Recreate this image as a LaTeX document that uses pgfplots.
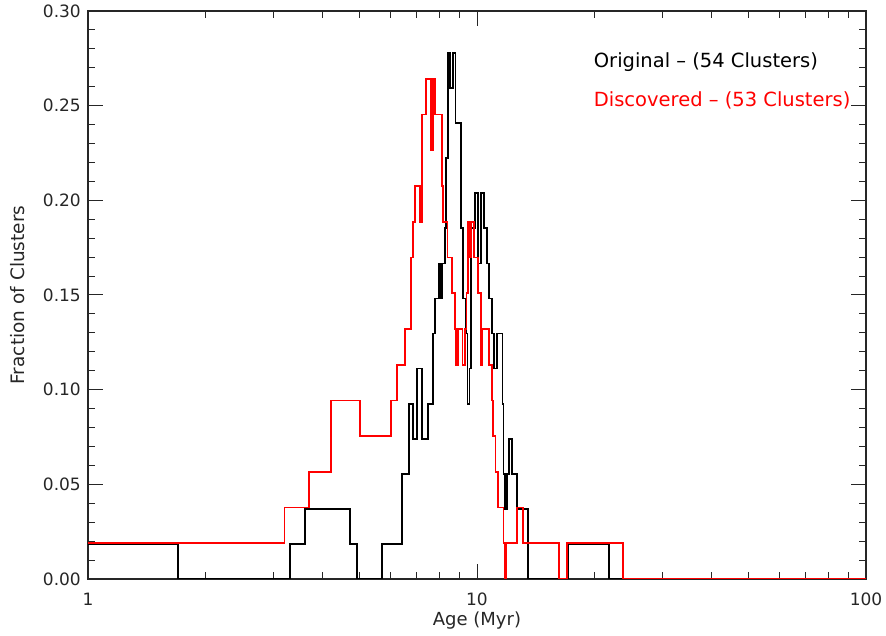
\documentclass[border=0pt]{standalone}
\usepackage{pgfplots}
\pgfplotsset{compat=1.18}
\usepackage{fontspec}
\setmainfont{DejaVu Sans}
\usetikzlibrary{calc}
\pgfplotstableread{
age frac
1 0.0185
1.7065 0
3.306 0.0185
3.606 0.0370
4.716 0.0185
4.924 0
5.709 0.0185
6.416 0.0556
6.699 0.0926
6.835 0.0741
6.998 0.1111
7.209 0.0741
7.497 0.0926
7.708 0.1296
7.800 0.1481
8.000 0.1667
8.081 0.1481
8.153 0.1667
8.274 0.1852
8.309 0.2222
8.418 0.2778
8.538 0.2593
8.665 0.2778
8.806 0.2407
9.112 0.1852
9.221 0.1481
9.370 0.1296
9.453 0.0926
9.566 0.1111
9.651 0.1852
9.882 0.2037
10.04 0.1667
10.24 0.2037
10.44 0.1852
10.59 0.1667
10.75 0.1481
10.91 0.1296
11.06 0.1111
11.24 0.1296
11.62 0.0926
11.69 0.0556
11.80 0.0370
11.92 0.0556
12.11 0.0741
12.30 0.0556
12.65 0.0370
13.50 0
17.17 0.0185
21.88 0
100 0
}\original
\pgfplotstableread{
age frac
1 0.0189
3.200 0.0377
3.706 0.0566
4.207 0.0943
5.004 0.0755
6.000 0.0943
6.217 0.1132
6.519 0.1321
6.754 0.1698
6.835 0.1887
6.928 0.2075
7.136 0.1887
7.221 0.2453
7.394 0.2642
7.603 0.2264
7.721 0.2642
7.812 0.2453
8.130 0.2075
8.191 0.1887
8.398 0.1698
8.624 0.1509
8.780 0.1321
8.831 0.1132
8.921 0.1321
9.177 0.1132
9.298 0.1321
9.398 0.1509
9.499 0.1887
9.594 0.1698
9.651 0.1887
9.806 0.1698
10.04 0.1509
10.22 0.1132
10.33 0.1321
10.75 0.1132
10.91 0.0943
11.01 0.0755
11.16 0.0566
11.34 0.0377
11.69 0.0189
11.80 0
11.87 0.0189
12.65 0.0377
13.15 0.0189
16.25 0
17.07 0.0189
23.77 0
100 0
}\discovered
\begin{document}
\begin{tikzpicture}
\begin{axis}[name=ax, scale only axis, width=778pt, height=568pt,
  xmode=log, xmin=1, xmax=100, ymin=0, ymax=0.30,
  xtick={1,10,100}, xticklabels={1,10,100},
  ytick={0,0.05,0.10,0.15,0.20,0.25,0.30},
  yticklabels={0.00,0.05,0.10,0.15,0.20,0.25,0.30},
  minor y tick num=4,
  tick align=inside, major tick length=15pt, minor tick length=7pt,
  axis line style={line width=1.2pt, black!85},
  every tick/.style={line width=1pt, black!85},
  /pgf/number format/assume math mode=true,
  every tick label/.append style={font=\fontsize{17}{20}\selectfont, text=black!85},
  xticklabel style={anchor=center, yshift=-20pt},
  yticklabel style={anchor=east, inner sep=0pt, xshift=-7pt},
  clip=true]
\addplot[const plot, black, line width=1.7pt] table[x=age, y=frac] {\original};
\addplot[const plot, red, line width=1.7pt] table[x=age, y=frac] {\discovered};
\node[anchor=west, inner sep=0pt, text=black, font=\fontsize{19.5}{22}\selectfont] at (rel axis cs:0.650,0.910) {Original -- (54 Clusters)};
\node[anchor=west, inner sep=0pt, text=red, font=\fontsize{19.5}{22}\selectfont] at (rel axis cs:0.650,0.843) {Discovered -- (53 Clusters)};
\end{axis}
\node[font=\fontsize{18}{22}\selectfont, text=black!85] at ($(ax.south west)+(389pt,-42pt)$) {Age (Myr)};
\node[rotate=90, font=\fontsize{18.5}{22}\selectfont, text=black!85] at ($(ax.south west)+(-70pt,284pt)$) {Fraction of Clusters};
\pgfresetboundingbox
\path ($(ax.south west)+(-88pt,-57pt)$) rectangle ($(ax.south west)+(798pt,579pt)$);
\end{tikzpicture}
\end{document}
